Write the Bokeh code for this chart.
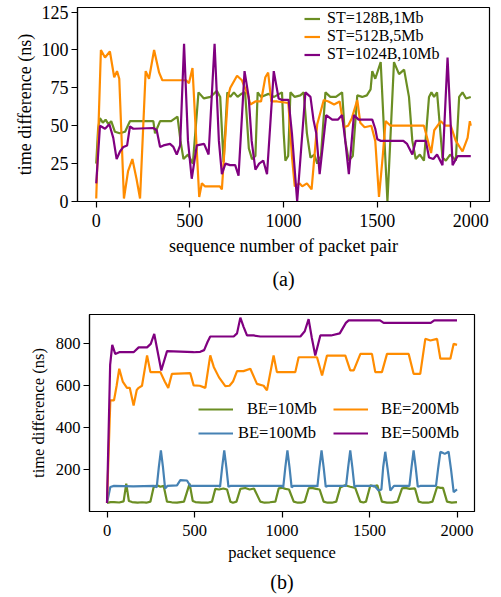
from bokeh.plotting import figure
from bokeh.models import Legend, LegendItem, Title, FixedTicker, Range1d
from bokeh.embed import file_html
from bokeh.resources import INLINE

FONT = "Liberation Serif"

# ---------------- data (a) ----------------
a_x_ticks = [0, 500, 1000, 1500, 2000]
a_y_ticks = [0, 25, 50, 75, 100, 125]
a_labels = ["ST=128B,1Mb", "ST=512B,5Mb", "ST=1024B,10Mb"]

a_green = [(0,25),(10,48),(20,55),(35,52),(50,54),(65,51),(80,53),(100,46),(125,45),(154,46),(180,53),(240,53),(305,53),(314,45),(341,53),(400,53),(434,56),(450,40),(466,28),(490,31),(516,25),(546,72),(575,68),(610,69),(644,73),(662,69),(680,26),(700,72),(716,69),(735,72),(755,69),(775,71),(795,72),(815,35),(832,28),(850,30),(862,72),(880,69),(920,71),(950,69),(992,72),(1001,45),(1010,27),(1025,30),(1037,72),(1060,69),(1090,70),(1108,72),(1125,45),(1144,29),(1165,31),(1180,25),(1200,30),(1224,72),(1250,69),(1280,69),(1313,72),(1330,40),(1349,27),(1370,30),(1394,70),(1420,69),(1445,70),(1465,74),(1474,86),(1490,81),(1519,92),(1555,0),(1590,92),(1617,84),(1644,87),(1670,69),(1688,40),(1706,28),(1728,31),(1750,27),(1777,69),(1790,72),(1804,69),(1820,72),(1849,29),(1867,27),(1890,31),(1920,27),(1938,69),(1956,72),(1975,68),(2000,69)]

a_orange = [(0,2),(25,100),(47,95),(73,99),(96,82),(111,86),(123,81),(148,2),(170,20),(193,28),(215,15),(234,2),(264,86),(282,81),(309,100),(336,85),(353,80),(480,80),(495,78),(514,88),(550,3),(564,12),(580,10),(660,10),(671,8),(703,69),(716,75),(752,83),(778,80),(810,70),(823,64),(850,66),(880,66),(903,82),(918,85),(935,66),(966,66),(1026,65),(1045,30),(1060,10),(1085,12),(1100,10),(1125,12),(1150,8),(1180,51),(1200,60),(1215,67),(1240,66),(1270,64),(1300,66),(1322,49),(1345,50),(1365,55),(1394,67),(1410,52),(1433,49),(1469,50),(1490,40),(1510,3),(1530,30),(1545,53),(1572,50),(1750,50),(1788,32),(1805,47),(1840,53),(1865,50),(1893,50),(1920,40),(1956,33),(1983,42),(1995,53),(2000,50)]

a_purple = [(0,12),(20,50),(47,48),(70,51),(91,42),(109,28),(127,33),(145,36),(165,37),(180,49.5),(198,48),(305,48.5),(323,47),(341,36),(359,37),(394,38),(412,36),(430,31),(448,37),(469,104),(490,40),(510,15),(537,37),(576,38),(600,31),(632,104),(655,40),(671,18),(690,25),(715,24),(742,24),(760,17),(792,86),(814,69),(830,40),(850,21),(870,25),(892,27),(912,18),(948,86),(974,68),(992,67),(1027,67),(1045,45),(1073,0),(1117,72),(1144,69),(1160,54),(1175,45),(1193,18),(1228,57),(1260,54),(1290,54),(1313,57),(1330,40),(1349,18),(1376,57),(1401,54),(1474,54),(1490,48),(1501,41),(1520,40),(1640,40),(1660,38),(1688,31),(1706,40),(1760,40),(1777,29),(1800,28),(1820,31),(1849,24),(1876,95),(1903,24),(1930,30),(2000,30)]

# ---------------- data (b) ----------------
b_x_ticks = [0, 500, 1000, 1500, 2000]
b_y_ticks = [200, 400, 600, 800]
b_labels = ["BE=10Mb", "BE=100Mb", "BE=200Mb", "BE=500Mb"]

b_green = [(0,41),(20,45),(40,45),(70,43),(95,48),(110,133),(125,50),(143,45),(175,42),(200,44),(225,42),(248,47),(266,115),(286,125),(305,118),(324,122),(343,47),(370,44),(400,42),(440,47),(472,133),(490,50),(505,45),(540,42),(575,42),(600,47),(619,108),(640,105),(665,110),(686,105),(705,47),(720,42),(740,47),(762,108),(790,112),(815,105),(840,110),(876,47),(900,42),(930,44),(962,47),(981,110),(1000,113),(1020,108),(1040,105),(1067,47),(1090,42),(1110,42),(1130,47),(1152,110),(1170,113),(1195,108),(1215,105),(1238,47),(1260,42),(1285,42),(1310,47),(1333,115),(1360,125),(1390,118),(1419,112),(1447,47),(1465,43),(1480,47),(1505,125),(1525,120),(1545,125),(1571,47),(1600,42),(1630,42),(1660,47),(1686,110),(1705,113),(1730,108),(1760,110),(1781,47),(1805,42),(1835,42),(1860,47),(1886,117),(1905,113),(1920,113),(1943,47),(1970,42),(2000,45)]

b_blue = [(0,41),(19,117),(40,122),(150,120),(270,122),(284,115),(296,210),(308,292),(320,210),(332,110),(345,122),(400,125),(419,150),(457,148),(476,122),(640,122),(646,118),(658,210),(670,292),(682,210),(694,118),(705,122),(1000,122),(1007,115),(1019,210),(1031,292),(1043,210),(1055,115),(1065,122),(1200,122),(1202,118),(1214,210),(1226,292),(1238,210),(1250,118),(1260,122),(1366,122),(1378,210),(1390,292),(1402,210),(1414,118),(1425,122),(1530,122),(1552,100),(1568,105),(1578,210),(1590,285),(1604,200),(1619,100),(1640,122),(1728,122),(1740,210),(1752,292),(1764,210),(1776,118),(1790,122),(1880,122),(1893,210),(1905,285),(1918,280),(1930,275),(1952,285),(1966,200),(1981,93),(2000,105)]

b_orange = [(0,41),(10,300),(19,530),(40,530),(55,600),(70,681),(90,620),(114,590),(130,590),(152,506),(170,580),(181,590),(200,600),(229,745),(248,665),(305,665),(330,620),(350,590),(371,657),(476,660),(495,602),(530,600),(562,590),(590,745),(610,690),(640,640),(676,598),(700,600),(720,620),(743,670),(780,670),(819,681),(857,609),(895,600),(914,578),(952,744),(971,665),(1076,665),(1095,736),(1200,736),(1229,649),(1257,744),(1362,744),(1390,673),(1410,673),(1448,752),(1514,752),(1533,665),(1571,665),(1600,752),(1724,752),(1752,657),(1790,657),(1819,824),(1848,816),(1886,824),(1905,729),(1962,729),(1981,800),(2000,795)]

b_purple = [(0,41),(18,700),(30,795),(47,752),(70,760),(152,760),(181,783),(229,783),(250,800),(270,847),(290,760),(310,673),(343,765),(495,760),(533,762),(555,770),(575,810),(590,835),(724,835),(743,850),(762,925),(781,880),(800,840),(838,840),(876,835),(1105,835),(1130,860),(1152,918),(1170,830),(1190,744),(1219,840),(1280,840),(1330,850),(1365,900),(1381,912),(1560,912),(1581,900),(1850,900),(1870,912),(2000,912)]

GREEN = "#6b8e23"
ORANGE = "#ff8c00"
PURPLE = "#800080"
BLUE = "#4682b4"


def xs(pts):
    return [p[0] for p in pts]


def ys(pts):
    return [p[1] for p in pts]


def style(p, xt, yt, fs):
    p.xgrid.visible = False
    p.ygrid.visible = False
    p.outline_line_color = "black"
    p.outline_line_width = 1.2
    p.outline_line_alpha = 1
    p.xaxis.ticker = FixedTicker(ticks=xt)
    p.yaxis.ticker = FixedTicker(ticks=yt)
    for ax in (p.xaxis[0], p.yaxis[0]):
        ax.axis_line_color = "black"
        ax.axis_line_width = 1.2
        ax.major_tick_line_color = "black"
        ax.major_tick_line_width = 1.2
        ax.major_tick_in = 0
        ax.major_tick_out = 6
        ax.minor_tick_line_color = None
        ax.major_label_text_font = FONT
        ax.major_label_text_font_size = fs
        ax.major_label_text_color = "black"
        ax.axis_label_text_font = FONT
        ax.axis_label_text_font_size = fs
        ax.axis_label_text_font_style = "normal"
        ax.axis_label_text_color = "black"


# ---------------- figure (a) ----------------
p1 = figure(width=501, height=305, output_backend="svg", toolbar_location=None,
            x_range=Range1d(-100, 2100), y_range=Range1d(0, 128),
            min_border_left=77, min_border_right=12, min_border_top=7, min_border_bottom=104)
style(p1, a_x_ticks, a_y_ticks, "18px")
p1.xaxis.axis_label = "sequence number of packet pair"
p1.yaxis.axis_label = "time difference (ns)"
p1.xaxis.major_label_standoff = 6
p1.xaxis.axis_label_standoff = 6
p1.yaxis.major_label_standoff = 3
p1.yaxis.axis_label_standoff = 4

rg = p1.line(xs(a_green), ys(a_green), line_color=GREEN, line_width=2.2)
ro = p1.line(xs(a_orange), ys(a_orange), line_color=ORANGE, line_width=2.2)
rp = p1.line(xs(a_purple), ys(a_purple), line_color=PURPLE, line_width=2.2)

leg_a = Legend(items=[LegendItem(label=a_labels[0], renderers=[rg]),
                      LegendItem(label=a_labels[1], renderers=[ro]),
                      LegendItem(label=a_labels[2], renderers=[rp])],
               location=(227, 138), glyph_width=16, glyph_height=17, label_height=17,
               label_standoff=7, spacing=0, padding=0, margin=0,
               background_fill_alpha=0, border_line_alpha=0,
               label_text_font=FONT, label_text_font_size="16px", label_text_color="black")
p1.add_layout(leg_a, "center")
p1.add_layout(Title(text="(a)", align="center", text_font=FONT, text_font_size="20px",
                    text_font_style="normal", text_color="black", standoff=15), "below")

# ---------------- figure (b) ----------------
p2 = figure(width=501, height=292, output_backend="svg", toolbar_location=None,
            x_range=Range1d(-100, 2100), y_range=Range1d(0, 940),
            min_border_left=89, min_border_right=27, min_border_top=9, min_border_bottom=86)
style(p2, b_x_ticks, b_y_ticks, "16.5px")
p2.xaxis.axis_label = "packet sequence"
p2.yaxis.axis_label = "time difference (ns)"
p2.xaxis.major_label_standoff = 7
p2.xaxis.axis_label_standoff = 4
p2.yaxis.major_label_standoff = 3
p2.yaxis.axis_label_standoff = 5

r10 = p2.line(xs(b_green), ys(b_green), line_color=GREEN, line_width=2.2)
r100 = p2.line(xs(b_blue), ys(b_blue), line_color=BLUE, line_width=2.2)
r200 = p2.line(xs(b_orange), ys(b_orange), line_color=ORANGE, line_width=2.2)
r500 = p2.line(xs(b_purple), ys(b_purple), line_color=PURPLE, line_width=2.2)

for lab, rr, loc, so in [(b_labels[0], r10, (109, 92), 14),
                         (b_labels[1], r100, (109, 68), 5),
                         (b_labels[2], r200, (244, 92), 13),
                         (b_labels[3], r500, (244, 68), 13)]:
    lg = Legend(items=[LegendItem(label=lab, renderers=[rr])],
                location=loc, glyph_width=35, glyph_height=20, label_height=20,
                label_standoff=so, spacing=0, padding=0, margin=0,
                background_fill_alpha=0, border_line_alpha=0,
                label_text_font=FONT, label_text_font_size="16.5px", label_text_color="black")
    p2.add_layout(lg, "center")

p2.add_layout(Title(text="(b)", align="center", text_font=FONT, text_font_size="20px",
                    text_font_style="normal", text_color="black", standoff=8), "below")

open("out.html", "w").write(file_html([p1, p2], INLINE))
